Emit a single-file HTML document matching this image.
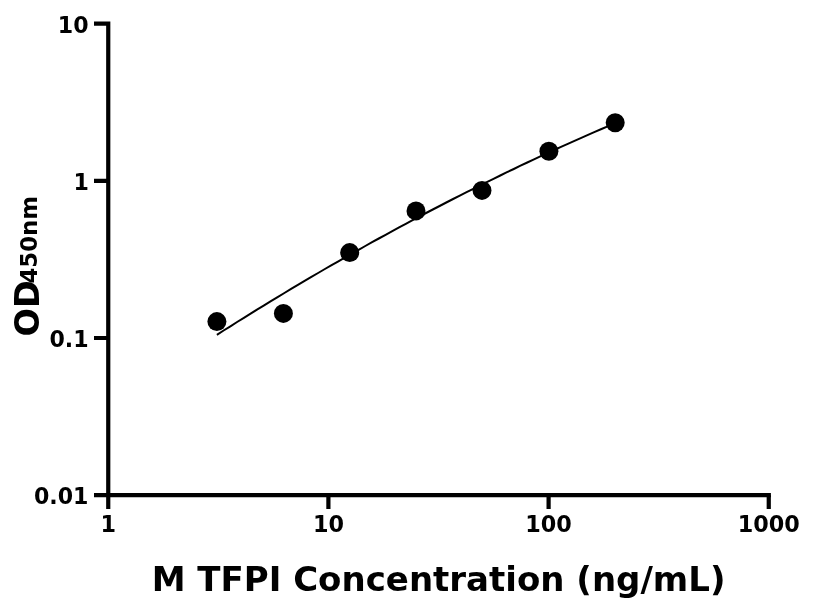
<!DOCTYPE html>
<html><head><meta charset="utf-8"><title>M TFPI</title>
<style>
html,body{margin:0;padding:0;background:#fff;}
svg{display:block;}
text{font-family:"DejaVu Sans","Liberation Sans",sans-serif;font-weight:bold;fill:#000;}
</style></head><body>
<svg width="816" height="612" viewBox="0 0 816 612">
<rect width="816" height="612" fill="#fff"/>
<g stroke="#000" stroke-width="4.2" fill="none" stroke-linecap="butt">
<path d="M94,23.7 H108.25 M108.25,21.6 V509"/>
<path d="M94,495.2 H770.9"/>
<path d="M94,180.9 H108.25 M94,338 H108.25"/>
<path d="M328.4,495.2 V509 M548.6,495.2 V509 M768.75,495.2 V509"/>
</g>
<path d="M216.9,334.8 L223.6,330.5 L230.4,326.3 L237.1,322.0 L243.9,317.8 L250.6,313.6 L257.4,309.4 L264.1,305.3 L270.9,301.2 L277.6,297.1 L284.4,293.0 L291.1,288.9 L297.9,284.9 L304.6,280.9 L311.4,276.9 L318.1,273.0 L324.9,269.0 L331.6,265.1 L338.4,261.3 L345.1,257.4 L351.8,253.6 L358.6,249.8 L365.3,246.0 L372.1,242.2 L378.8,238.5 L385.6,234.8 L392.3,231.1 L399.1,227.4 L405.8,223.8 L412.6,220.2 L419.3,216.6 L426.1,213.0 L432.8,209.5 L439.6,206.0 L446.3,202.5 L453.1,199.0 L459.8,195.6 L466.6,192.2 L473.3,188.8 L480.1,185.4 L486.8,182.1 L493.5,178.8 L500.3,175.5 L507.0,172.2 L513.8,169.0 L520.5,165.7 L527.3,162.5 L534.0,159.4 L540.8,156.2 L547.5,153.1 L554.3,150.0 L561.0,146.9 L567.8,143.9 L574.5,140.9 L581.3,137.9 L588.0,134.9 L594.8,131.9 L601.5,129.0 L608.3,126.1 L615.0,123.2" stroke="#000" stroke-width="2" fill="none"/>
<g fill="#000">
<circle cx="216.9" cy="321.6" r="9.5"/>
<circle cx="283.4" cy="313.4" r="9.5"/>
<circle cx="349.7" cy="252.6" r="9.5"/>
<circle cx="416.0" cy="210.9" r="9.5"/>
<circle cx="482.0" cy="190.4" r="9.5"/>
<circle cx="548.9" cy="151.2" r="9.5"/>
<circle cx="615.2" cy="122.7" r="9.5"/>
</g>
<g font-size="22.1px" text-anchor="end">
<text x="88.6" y="32.5">10</text>
<text x="88.9" y="189.6">1</text>
<text x="88.6" y="346.7">0.1</text>
<text x="88.4" y="503.8">0.01</text>
</g>
<g font-size="22.3px" text-anchor="middle">
<text x="108.25" y="532">1</text>
<text x="328.4" y="532">10</text>
<text x="548.6" y="532">100</text>
<text x="768.75" y="532">1000</text>
</g>
<text x="438.6" y="590.7" font-size="34px" text-anchor="middle">M TFPI Concentration (ng/mL)</text>
<text transform="translate(39.3,336.6) rotate(-90)" font-size="33.6px">OD<tspan font-size="22.8px" dy="-2" dx="-3.4">450nm</tspan></text>
</svg>
</body></html>
